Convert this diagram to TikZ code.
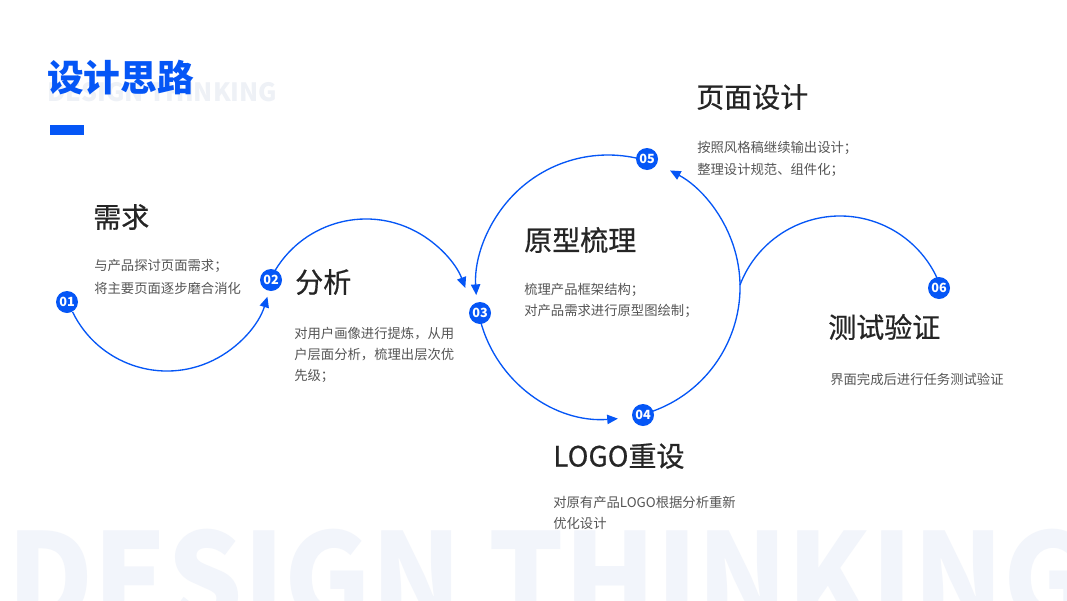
\documentclass[tikz,border=0pt]{standalone}
\usepackage{fontspec}
\setmainfont{Noto Sans CJK SC}
\newfontfamily\headfont{Noto Sans CJK SC}[FakeBold=0.6]
\usetikzlibrary{arrows.meta}
\definecolor{brand}{HTML}{0556F6}
\definecolor{ghost}{HTML}{F2F5FB}
\definecolor{ghostsmall}{HTML}{EEF1F6}
\definecolor{headc}{HTML}{252525}
\definecolor{descc}{HTML}{555555}
\begin{document}
\begin{tikzpicture}[x=0.75pt,y=-0.75pt,
  marker/.style={circle, fill=brand, minimum size=16.5pt, inner sep=0pt, text=white,
    font=\bfseries\fontsize{9.5}{9.5}\selectfont},
  flow/.style={draw=brand, line width=1pt},
  arr/.style={flow, -{Triangle[length=8pt,width=7pt]}},
  head/.style={anchor=west, inner sep=0pt, text=headc, font=\headfont\fontsize{21}{21}\selectfont},
  desc/.style={anchor=west, inner sep=0pt, text=descc, font=\fontsize{10}{10}\selectfont},
]
\clip (0,0) rectangle (1067,600);
\fill[white] (0,0) rectangle (1067,600);

% background ghost lettering
\node[anchor=north west, inner sep=0pt, text=ghost] (ghostbig) at (7,529)
  {\resizebox{812pt}{71.5pt}{\bfseries DESIGN THINKING}};
\node[anchor=north west, inner sep=0pt, text=ghostsmall] (ghostsm) at (47,82)
  {\resizebox{172.5pt}{!}{\bfseries DESIGN THINKING}};

% title
\node[anchor=west, inner sep=0pt, text=brand, font=\bfseries\fontsize{27.5}{27.5}\selectfont] (title) at (47,78) {设计思路};
\node[fill=brand, minimum width=25.5pt, minimum height=7.5pt, inner sep=0pt, anchor=north west] (bar) at (50,124.5) {};

% arc centres
\coordinate (c1) at (167,266);
\coordinate (c2) at (366,325);
\coordinate (cb) at (608,287);
\coordinate (c6) at (840,323);

% connectors
\draw[arr] ([shift={(154:105)}]c1) arc[start angle=154, end angle=17, radius=105];
\draw[arr] ([shift={(-152:106)}]c2) arc[start angle=-152, end angle=-20.5, radius=106];
\draw[arr] ([shift={(-76:132)}]cb) arc[start angle=-76, end angle=-183.5, radius=132];
\draw[arr] ([shift={(165:132)}]cb) arc[start angle=165, end angle=85.7, radius=132];
\draw[arr] ([shift={(72:132)}]cb) arc[start angle=72, end angle=-62, radius=132];
\draw[flow] ([shift={(-159.2:107)}]c6) arc[start angle=-159.2, end angle=-24, radius=107];

% markers
\node[marker] (m01) at (67,302) {01};
\node[marker] (m02) at (271,280) {02};
\node[marker] (m03) at (480,313) {03};
\node[marker] (m04) at (643,415) {04};
\node[marker] (m05) at (647,159) {05};
\node[marker] (m06) at (939,288) {06};

% texts
\node[head] (h1) at (93,217) {需求};
\node[desc] (d1a) at (94,266) {与产品探讨页面需求；};
\node[desc] (d1b) at (94,288) {将主要页面逐步磨合消化};

\node[head] (h2) at (295,282) {分析};
\node[desc] (d2a) at (294,334) {对用户画像进行提炼，从用};
\node[desc] (d2b) at (294,355) {户层面分析，梳理出层次优};
\node[desc] (d2c) at (294,376) {先级；};

\node[head] (h3) at (524,240) {原型梳理};
\node[desc] (d3a) at (524,290) {梳理产品框架结构；};
\node[desc] (d3b) at (524,311) {对产品需求进行原型图绘制；};

\node[head] (h5) at (696,97) {页面设计};
\node[desc] (d5a) at (697,148) {按照风格稿继续输出设计；};
\node[desc] (d5b) at (697,170) {整理设计规范、组件化；};

\node[head] (h6) at (828,327) {测试验证};
\node[desc] (d6a) at (830,379) {界面完成后进行任务测试验证};

\node[head] (h4) at (553,456) {LOGO重设};
\node[desc] (d4a) at (553,502) {对原有产品LOGO根据分析重新};
\node[desc] (d4b) at (553,523) {优化设计};
\end{tikzpicture}
\end{document}
